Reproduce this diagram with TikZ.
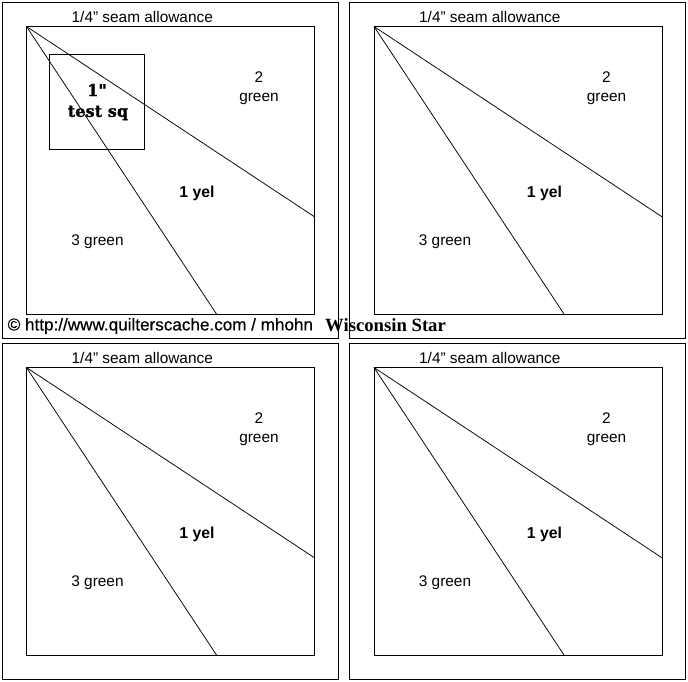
\documentclass[tikz,border=0pt]{standalone}
\usepackage{fontspec}
\setmainfont{Liberation Sans}[Ligatures=ResetAll]
\newfontfamily\creditfont{Liberation Sans}[Ligatures=ResetAll, FakeBold=0.5]
\newfontfamily\heavyfont{DejaVu Serif}[Ligatures=ResetAll, FakeBold=1.2]
\newfontfamily\titlefont{Liberation Serif}
\tikzset{
  panelline/.style={draw=black, line width=0.9pt},
  seamline/.style={draw=black, line width=0.75pt},
  plain/.style={inner sep=0pt, font=\fontsize{15.4}{17}\selectfont},
  boldlabel/.style={inner sep=0pt, font=\fontsize{15.8}{17}\selectfont\bfseries},
  testlabel/.style={inner sep=0pt, font=\heavyfont\bfseries\fontsize{16.2}{18}\selectfont},
}
\begin{document}
\begin{tikzpicture}[x=1pt, y=-1pt]

    % Fix the page to the size of the picture
    \useasboundingbox (0, 0) rectangle (688, 681);

    % Draw the four panels
    \foreach \dx/\dy/\name in {0/0/a, 347.5/0/b, 0/341/c, 347.5/341/d} {
      \begin{scope}[shift={(\dx, \dy)}]

        % Points of the seam square
        \coordinate (\name O) at (26.5, 26.5);     % Top-left point
        \coordinate (\name R) at (314.5, 216.8);   % Point on right side
        \coordinate (\name B) at (216.5, 314);     % Point on bottom side

        % Outer frame and seam square
        \draw[panelline] (2.2, 2.5) rectangle (338, 338);
        \draw[panelline] (\name O) rectangle (314.5, 314);

        % Lines from the corner
        \draw[seamline] (\name O) -- (\name R);
        \draw[seamline] (\name O) -- (\name B);

        % Labels
        \node[plain] (\name seam) at (142.3, 16.5) {1/4" seam allowance};
        \node[plain] (\name two) at (259, 77) {2};
        \node[plain] (\name twog) at (259, 98.5) {green};
        \node[boldlabel] (\name yel) at (197, 193.5) {1 yel};
        \node[plain] (\name three) at (97.5, 242) {3 green};
      \end{scope}
    }

    % Draw the test square
    \draw[panelline] (49.5, 54.5) rectangle (144.5, 149.5);
    \node[testlabel] (inch) at (97, 90) {1"};
    \node[testlabel] (testsq) at (98, 113) {test sq};

    % Draw the credit line
    \node[inner sep=0pt, anchor=west, font=\creditfont\fontsize{17.1}{19}\selectfont] (credit) at (7.5, 326) {© http://www.quilterscache.com / mhohn};
    \node[inner sep=0pt, anchor=west, font=\titlefont\bfseries\fontsize{18.7}{20}\selectfont] (star) at (325, 325) {Wisconsin Star};

\end{tikzpicture}
\end{document}
